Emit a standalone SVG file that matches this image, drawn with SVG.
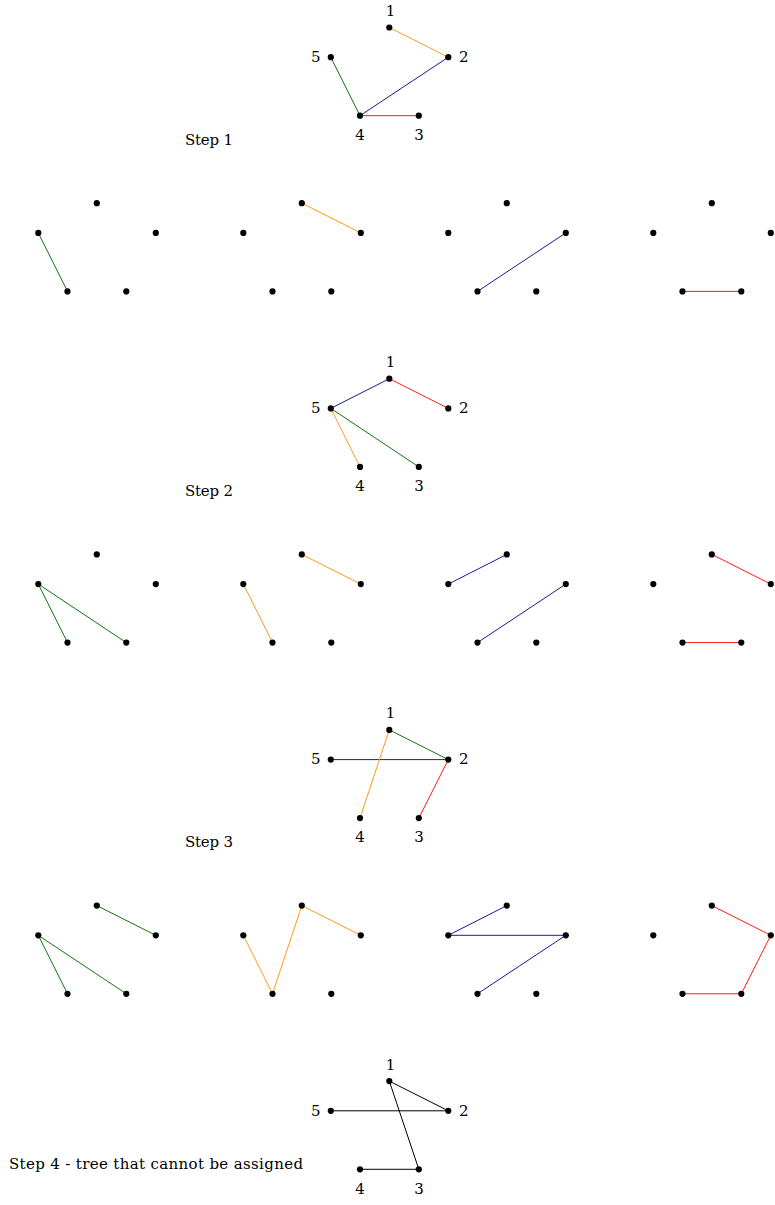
<svg xmlns="http://www.w3.org/2000/svg" width="775" height="1205" viewBox="0 0 775 1205">
<style>
text{font-family:"DejaVu Serif","Liberation Serif",serif;font-size:15px;fill:#000}
.n{font-size:15px}
.d{fill:#000}
line{stroke-width:1;fill:none}
.g{stroke:#117711}
.o{stroke:#ff9a1a}
.b{stroke:#1a1a99}
.r{stroke:#ff1a1a}
.k{stroke:#000}
.m{text-anchor:middle}
.e{text-anchor:end}
</style>
<defs>
<circle id="dot" r="3.1" class="d"/>
</defs>
<g id="labels">
<text x="185" y="145" textLength="48" lengthAdjust="spacing">Step 1</text>
<text x="185" y="496" textLength="48" lengthAdjust="spacing">Step 2</text>
<text x="185" y="847" textLength="48" lengthAdjust="spacing">Step 3</text>
<text x="9" y="1169" textLength="294" lengthAdjust="spacing">Step 4 - tree that cannot be assigned</text>
</g>
<g id="connectors">
<g transform="translate(0,0)">
<line class="o" x1="389.3" y1="27.5" x2="448.3" y2="57.2"/>
<line class="g" x1="330.8" y1="57.2" x2="360" y2="115.7"/>
<line class="b" x1="360" y1="115.7" x2="448.3" y2="57.2"/>
<line class="r" x1="360" y1="115.7" x2="418.8" y2="115.7"/>
</g>
<g transform="translate(-292.5,175.7)"><line class="g" x1="330.8" y1="57.2" x2="360" y2="115.7"/></g>
<g transform="translate(-87.5,175.7)"><line class="o" x1="389.3" y1="27.5" x2="448.3" y2="57.2"/></g>
<g transform="translate(117.5,175.7)"><line class="b" x1="360" y1="115.7" x2="448.3" y2="57.2"/></g>
<g transform="translate(322.5,175.7)"><line class="r" x1="360" y1="115.7" x2="418.8" y2="115.7"/></g>
<g transform="translate(0,351.2)">
<line class="b" x1="330.8" y1="57.2" x2="389.3" y2="27.5"/>
<line class="r" x1="389.3" y1="27.5" x2="448.3" y2="57.2"/>
<line class="o" x1="330.8" y1="57.2" x2="360" y2="115.7"/>
<line class="g" x1="330.8" y1="57.2" x2="418.8" y2="115.7"/>
</g>
<g transform="translate(-292.5,526.9)">
<line class="g" x1="330.8" y1="57.2" x2="360" y2="115.7"/>
<line class="g" x1="330.8" y1="57.2" x2="418.8" y2="115.7"/>
</g>
<g transform="translate(-87.5,526.9)">
<line class="o" x1="389.3" y1="27.5" x2="448.3" y2="57.2"/>
<line class="o" x1="330.8" y1="57.2" x2="360" y2="115.7"/>
</g>
<g transform="translate(117.5,526.9)">
<line class="b" x1="330.8" y1="57.2" x2="389.3" y2="27.5"/>
<line class="b" x1="360" y1="115.7" x2="448.3" y2="57.2"/>
</g>
<g transform="translate(322.5,526.9)">
<line class="r" x1="389.3" y1="27.5" x2="448.3" y2="57.2"/>
<line class="r" x1="360" y1="115.7" x2="418.8" y2="115.7"/>
</g>
<g transform="translate(0,702.4)">
<line class="g" x1="389.3" y1="27.5" x2="448.3" y2="57.2"/>
<line class="b" x1="330.8" y1="57.2" x2="448.3" y2="57.2"/>
<line class="o" x1="389.3" y1="27.5" x2="360" y2="115.7"/>
<line class="r" x1="448.3" y1="57.2" x2="418.8" y2="115.7"/>
</g>
<g transform="translate(-292.5,878.1)">
<line class="g" x1="330.8" y1="57.2" x2="360" y2="115.7"/>
<line class="g" x1="330.8" y1="57.2" x2="418.8" y2="115.7"/>
<line class="g" x1="389.3" y1="27.5" x2="448.3" y2="57.2"/>
</g>
<g transform="translate(-87.5,878.1)">
<line class="o" x1="330.8" y1="57.2" x2="360" y2="115.7"/>
<line class="o" x1="360" y1="115.7" x2="389.3" y2="27.5"/>
<line class="o" x1="389.3" y1="27.5" x2="448.3" y2="57.2"/>
</g>
<g transform="translate(117.5,878.1)">
<line class="b" x1="330.8" y1="57.2" x2="389.3" y2="27.5"/>
<line class="b" x1="330.8" y1="57.2" x2="448.3" y2="57.2"/>
<line class="b" x1="360" y1="115.7" x2="448.3" y2="57.2"/>
</g>
<g transform="translate(322.5,878.1)">
<line class="r" x1="389.3" y1="27.5" x2="448.3" y2="57.2"/>
<line class="r" x1="448.3" y1="57.2" x2="418.8" y2="115.7"/>
<line class="r" x1="360" y1="115.7" x2="418.8" y2="115.7"/>
</g>
<g transform="translate(0,1053.6)">
<line class="k" x1="389.3" y1="27.5" x2="448.3" y2="57.2"/>
<line class="k" x1="330.8" y1="57.2" x2="448.3" y2="57.2"/>
<line class="k" x1="389.3" y1="27.5" x2="418.8" y2="115.7"/>
<line class="k" x1="360" y1="115.7" x2="418.8" y2="115.7"/>
</g>
</g>
<g id="step1-graph" transform="translate(0,0)">
<g id="s1-n1"><use href="#dot" x="389.3" y="27.5"/><text class="n m" x="390.5" y="16">1</text></g>
<g id="s1-n2"><use href="#dot" x="448.3" y="57.2"/><text class="n" x="459" y="62">2</text></g>
<g id="s1-n5"><use href="#dot" x="330.8" y="57.2"/><text class="n e" x="320.5" y="62">5</text></g>
<g id="s1-n4"><use href="#dot" x="360" y="115.7"/><text class="n m" x="360" y="140">4</text></g>
<g id="s1-n3"><use href="#dot" x="418.8" y="115.7"/><text class="n m" x="419" y="140">3</text></g>
</g>
<g id="step2-graph" transform="translate(0,351.2)">
<g id="s2-n1"><use href="#dot" x="389.3" y="27.5"/><text class="n m" x="390.5" y="16">1</text></g>
<g id="s2-n2"><use href="#dot" x="448.3" y="57.2"/><text class="n" x="459" y="62">2</text></g>
<g id="s2-n5"><use href="#dot" x="330.8" y="57.2"/><text class="n e" x="320.5" y="62">5</text></g>
<g id="s2-n4"><use href="#dot" x="360" y="115.7"/><text class="n m" x="360" y="140">4</text></g>
<g id="s2-n3"><use href="#dot" x="418.8" y="115.7"/><text class="n m" x="419" y="140">3</text></g>
</g>
<g id="step3-graph" transform="translate(0,702.4)">
<g id="s3-n1"><use href="#dot" x="389.3" y="27.5"/><text class="n m" x="390.5" y="16">1</text></g>
<g id="s3-n2"><use href="#dot" x="448.3" y="57.2"/><text class="n" x="459" y="62">2</text></g>
<g id="s3-n5"><use href="#dot" x="330.8" y="57.2"/><text class="n e" x="320.5" y="62">5</text></g>
<g id="s3-n4"><use href="#dot" x="360" y="115.7"/><text class="n m" x="360" y="140">4</text></g>
<g id="s3-n3"><use href="#dot" x="418.8" y="115.7"/><text class="n m" x="419" y="140">3</text></g>
</g>
<g id="step4-graph" transform="translate(0,1053.6)">
<g id="s4-n1"><use href="#dot" x="389.3" y="27.5"/><text class="n m" x="390.5" y="16">1</text></g>
<g id="s4-n2"><use href="#dot" x="448.3" y="57.2"/><text class="n" x="459" y="62">2</text></g>
<g id="s4-n5"><use href="#dot" x="330.8" y="57.2"/><text class="n e" x="320.5" y="62">5</text></g>
<g id="s4-n4"><use href="#dot" x="360" y="115.7"/><text class="n m" x="360" y="140">4</text></g>
<g id="s4-n3"><use href="#dot" x="418.8" y="115.7"/><text class="n m" x="419" y="140">3</text></g>
</g>
<g id="r1-p1" transform="translate(-292.5,175.7)"><g id="r1p1-n1"><use href="#dot" x="389.3" y="27.5"/></g><g id="r1p1-n2"><use href="#dot" x="448.3" y="57.2"/></g><g id="r1p1-n5"><use href="#dot" x="330.8" y="57.2"/></g><g id="r1p1-n4"><use href="#dot" x="360" y="115.7"/></g><g id="r1p1-n3"><use href="#dot" x="418.8" y="115.7"/></g></g>
<g id="r1-p2" transform="translate(-87.5,175.7)"><g id="r1p2-n1"><use href="#dot" x="389.3" y="27.5"/></g><g id="r1p2-n2"><use href="#dot" x="448.3" y="57.2"/></g><g id="r1p2-n5"><use href="#dot" x="330.8" y="57.2"/></g><g id="r1p2-n4"><use href="#dot" x="360" y="115.7"/></g><g id="r1p2-n3"><use href="#dot" x="418.8" y="115.7"/></g></g>
<g id="r1-p3" transform="translate(117.5,175.7)"><g id="r1p3-n1"><use href="#dot" x="389.3" y="27.5"/></g><g id="r1p3-n2"><use href="#dot" x="448.3" y="57.2"/></g><g id="r1p3-n5"><use href="#dot" x="330.8" y="57.2"/></g><g id="r1p3-n4"><use href="#dot" x="360" y="115.7"/></g><g id="r1p3-n3"><use href="#dot" x="418.8" y="115.7"/></g></g>
<g id="r1-p4" transform="translate(322.5,175.7)"><g id="r1p4-n1"><use href="#dot" x="389.3" y="27.5"/></g><g id="r1p4-n2"><use href="#dot" x="448.3" y="57.2"/></g><g id="r1p4-n5"><use href="#dot" x="330.8" y="57.2"/></g><g id="r1p4-n4"><use href="#dot" x="360" y="115.7"/></g><g id="r1p4-n3"><use href="#dot" x="418.8" y="115.7"/></g></g>
<g id="r2-p1" transform="translate(-292.5,526.9)"><g id="r2p1-n1"><use href="#dot" x="389.3" y="27.5"/></g><g id="r2p1-n2"><use href="#dot" x="448.3" y="57.2"/></g><g id="r2p1-n5"><use href="#dot" x="330.8" y="57.2"/></g><g id="r2p1-n4"><use href="#dot" x="360" y="115.7"/></g><g id="r2p1-n3"><use href="#dot" x="418.8" y="115.7"/></g></g>
<g id="r2-p2" transform="translate(-87.5,526.9)"><g id="r2p2-n1"><use href="#dot" x="389.3" y="27.5"/></g><g id="r2p2-n2"><use href="#dot" x="448.3" y="57.2"/></g><g id="r2p2-n5"><use href="#dot" x="330.8" y="57.2"/></g><g id="r2p2-n4"><use href="#dot" x="360" y="115.7"/></g><g id="r2p2-n3"><use href="#dot" x="418.8" y="115.7"/></g></g>
<g id="r2-p3" transform="translate(117.5,526.9)"><g id="r2p3-n1"><use href="#dot" x="389.3" y="27.5"/></g><g id="r2p3-n2"><use href="#dot" x="448.3" y="57.2"/></g><g id="r2p3-n5"><use href="#dot" x="330.8" y="57.2"/></g><g id="r2p3-n4"><use href="#dot" x="360" y="115.7"/></g><g id="r2p3-n3"><use href="#dot" x="418.8" y="115.7"/></g></g>
<g id="r2-p4" transform="translate(322.5,526.9)"><g id="r2p4-n1"><use href="#dot" x="389.3" y="27.5"/></g><g id="r2p4-n2"><use href="#dot" x="448.3" y="57.2"/></g><g id="r2p4-n5"><use href="#dot" x="330.8" y="57.2"/></g><g id="r2p4-n4"><use href="#dot" x="360" y="115.7"/></g><g id="r2p4-n3"><use href="#dot" x="418.8" y="115.7"/></g></g>
<g id="r3-p1" transform="translate(-292.5,878.1)"><g id="r3p1-n1"><use href="#dot" x="389.3" y="27.5"/></g><g id="r3p1-n2"><use href="#dot" x="448.3" y="57.2"/></g><g id="r3p1-n5"><use href="#dot" x="330.8" y="57.2"/></g><g id="r3p1-n4"><use href="#dot" x="360" y="115.7"/></g><g id="r3p1-n3"><use href="#dot" x="418.8" y="115.7"/></g></g>
<g id="r3-p2" transform="translate(-87.5,878.1)"><g id="r3p2-n1"><use href="#dot" x="389.3" y="27.5"/></g><g id="r3p2-n2"><use href="#dot" x="448.3" y="57.2"/></g><g id="r3p2-n5"><use href="#dot" x="330.8" y="57.2"/></g><g id="r3p2-n4"><use href="#dot" x="360" y="115.7"/></g><g id="r3p2-n3"><use href="#dot" x="418.8" y="115.7"/></g></g>
<g id="r3-p3" transform="translate(117.5,878.1)"><g id="r3p3-n1"><use href="#dot" x="389.3" y="27.5"/></g><g id="r3p3-n2"><use href="#dot" x="448.3" y="57.2"/></g><g id="r3p3-n5"><use href="#dot" x="330.8" y="57.2"/></g><g id="r3p3-n4"><use href="#dot" x="360" y="115.7"/></g><g id="r3p3-n3"><use href="#dot" x="418.8" y="115.7"/></g></g>
<g id="r3-p4" transform="translate(322.5,878.1)"><g id="r3p4-n1"><use href="#dot" x="389.3" y="27.5"/></g><g id="r3p4-n2"><use href="#dot" x="448.3" y="57.2"/></g><g id="r3p4-n5"><use href="#dot" x="330.8" y="57.2"/></g><g id="r3p4-n4"><use href="#dot" x="360" y="115.7"/></g><g id="r3p4-n3"><use href="#dot" x="418.8" y="115.7"/></g></g>
</svg>
